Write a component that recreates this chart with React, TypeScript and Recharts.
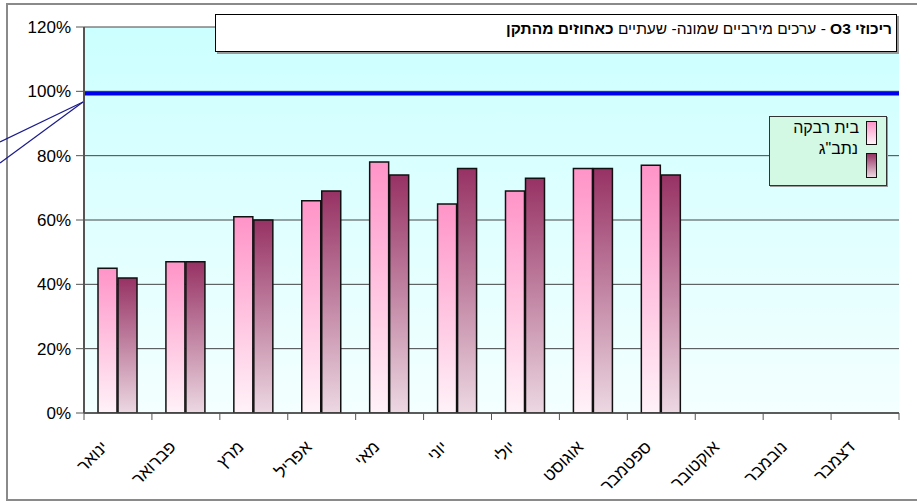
import React from 'react';
import { Bar, BarChart, CartesianGrid, ReferenceLine, XAxis, YAxis } from 'recharts';

const months = ['ינואר', 'פברואר', 'מרץ', 'אפריל', 'מאי', 'יוני', 'יולי', 'אוגוסט', 'ספטמבר', 'אוקטובר', 'נובמבר', 'דצמבר'];
const beitRivka = [45, 47, 61, 66, 78, 65, 69, 76, 77, null, null, null];
const natbag = [42, 47, 60, 69, 74, 76, 73, 76, 74, null, null, null];
const yTicks = [0, 20, 40, 60, 80, 100, 120];
const standardLevel = 99.3;

const data = months.map((m, i) => ({ month: m, beitRivka: beitRivka[i], natbag: natbag[i] }));

const W = 917;
const H = 504;
const M = { top: 27, right: 18, bottom: 0, left: 0 };
const Y_W = 84;
const X_H = 91;
const AXIS_Y = H - M.bottom - X_H;
const catW = (W - M.right - Y_W) / months.length;

const font = '"Liberation Sans", Arial, sans-serif';

function MonthTick(props: any) {
  const { x, payload, index } = props;
  const half = catW / 2;
  const ax = x - 9;
  const ay = AXIS_Y + 35;
  return (
    <g>
      <line x1={x - half} y1={AXIS_Y} x2={x - half} y2={AXIS_Y + 7} stroke="#555" />
      {index === months.length - 1 && <line x1={x + half} y1={AXIS_Y} x2={x + half} y2={AXIS_Y + 7} stroke="#555" />}
      <text x={ax} y={ay} transform={`rotate(-45 ${ax} ${ay})`} textAnchor="end" fontSize={17} fontFamily={font} fill="#000">
        {payload.value}
      </text>
    </g>
  );
}

export default function App() {
  return (
    <div style={{ position: 'fixed', left: 0, top: 0, width: W, height: H, background: '#fff', overflow: 'hidden', fontFamily: font }}>
      <div style={{ position: 'absolute', left: 6, top: 3, width: 960, height: 498, border: '2px solid #8a8a8a', boxSizing: 'border-box' }} />
      <BarChart width={W} height={H} data={data} margin={M} barSize={19} barGap={1}>
        <defs>
          <linearGradient id="plotBg" x1="0" y1="0" x2="0" y2="1">
            <stop offset="0%" stopColor="#ccffff" />
            <stop offset="100%" stopColor="#f4ffff" />
          </linearGradient>
          <linearGradient id="gPink" x1="0" y1="0" x2="0" y2="1">
            <stop offset="0%" stopColor="#ff94c8" />
            <stop offset="100%" stopColor="#fff2f8" />
          </linearGradient>
          <linearGradient id="gPlum" x1="0" y1="0" x2="0" y2="1">
            <stop offset="0%" stopColor="#973264" />
            <stop offset="100%" stopColor="#ecd8e2" />
          </linearGradient>
        </defs>
        <CartesianGrid vertical={false} stroke="#444" fill="url(#plotBg)" fillOpacity={1} />
        <XAxis
          dataKey="month"
          height={X_H}
          interval={0}
          tickLine={false}
          axisLine={{ stroke: '#444', strokeWidth: 1.5 }}
          tick={<MonthTick />}
        />
        <YAxis
          width={Y_W}
          domain={[0, 120]}
          ticks={yTicks}
          tickFormatter={(v: number) => `${v}%`}
          tickSize={8}
          tickMargin={5}
          axisLine={{ stroke: '#555', strokeWidth: 2 }}
          tickLine={{ stroke: '#555' }}
          tick={{ fontSize: 17, fill: '#000', fontFamily: font }}
          allowDataOverflow
        />
        <YAxis yAxisId="r" orientation="right" width={0} tick={false} tickLine={false} axisLine={{ stroke: '#999' }} />
        <ReferenceLine y={standardLevel} stroke="#0000ee" strokeWidth={4} ifOverflow="extendDomain" />
        <Bar dataKey="beitRivka" fill="url(#gPink)" stroke="#111" strokeWidth={1.5} isAnimationActive={false} />
        <Bar dataKey="natbag" fill="url(#gPlum)" stroke="#111" strokeWidth={1.5} isAnimationActive={false} />
      </BarChart>

      <svg style={{ position: 'absolute', left: 0, top: 0 }} width={W} height={H} pointerEvents="none">
        <line x1={83} y1={102} x2={0} y2={142} stroke="#1a1a8c" strokeWidth={1.2} />
        <line x1={83} y1={102} x2={0} y2={163} stroke="#1a1a8c" strokeWidth={1.2} />
      </svg>

      <div
        dir="rtl"
        style={{
          position: 'absolute',
          left: 215,
          top: 14,
          width: 682,
          height: 38,
          background: '#fff',
          border: '1px solid #000',
          boxShadow: '2px 2px 0 #999',
          boxSizing: 'border-box',
          padding: '5px 4px 0 0',
          fontSize: 15.5,
          lineHeight: '18px',
          color: '#000',
          whiteSpace: 'nowrap',
        }}
      >
        <b>ריכוזי O3</b> - ערכים מירביים שמונה- שעתיים <b>כאחוזים מהתקן</b>
      </div>

      <div
        style={{
          position: 'absolute',
          left: 769,
          top: 116,
          width: 118,
          height: 70,
          background: '#d3f8e3',
          border: '1px solid #333',
          boxShadow: '1px 1px 0 #999',
          boxSizing: 'border-box',
          fontSize: 16,
          color: '#000',
        }}
      >
        <div dir="rtl" style={{ position: 'absolute', right: 27, top: 2, whiteSpace: 'nowrap' }}>בית רבקה</div>
        <div dir="rtl" style={{ position: 'absolute', right: 28, top: 23, whiteSpace: 'nowrap' }}>נתב"ג</div>
        <div style={{ position: 'absolute', left: 96, top: 4, width: 11, height: 24, border: '1px solid #111', boxSizing: 'border-box', background: 'linear-gradient(#ff94c8, #fff2f8)' }} />
        <div style={{ position: 'absolute', left: 96, top: 36, width: 11, height: 25, border: '1px solid #111', boxSizing: 'border-box', background: 'linear-gradient(#973264, #ecd8e2)' }} />
      </div>
    </div>
  );
}
